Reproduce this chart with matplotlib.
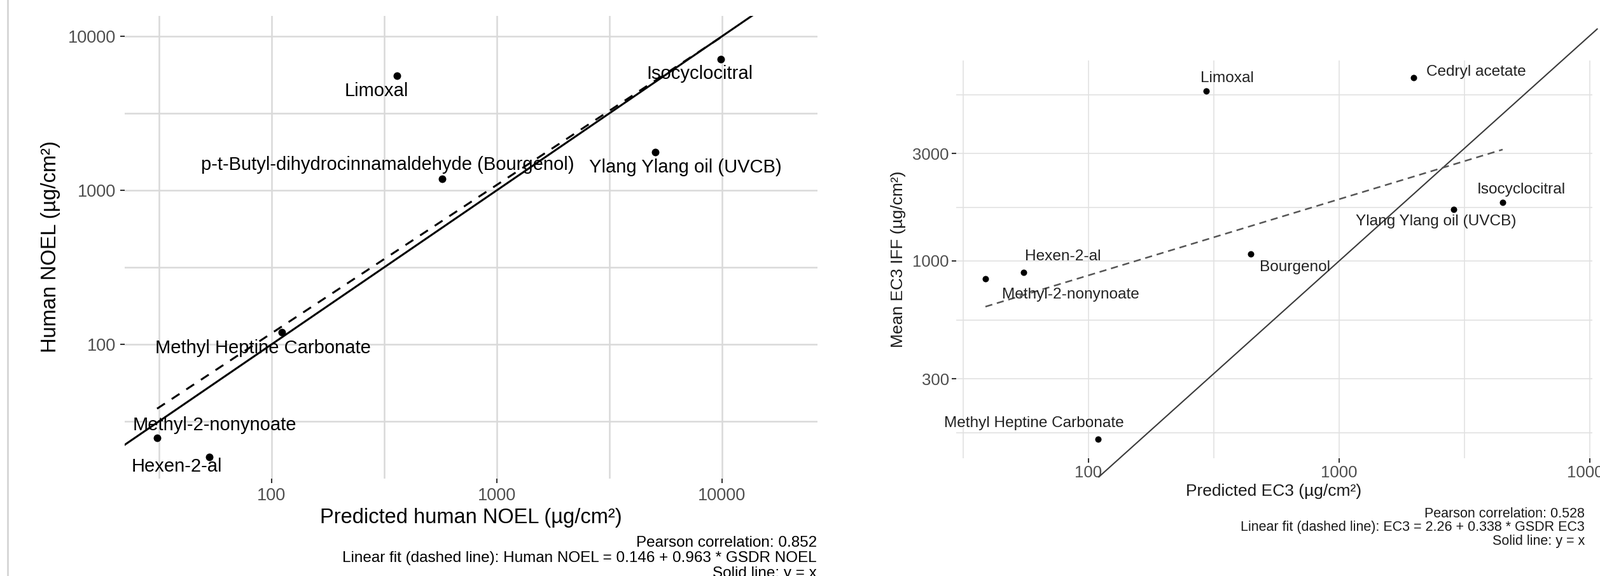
import numpy as np
import matplotlib.pyplot as plt
from matplotlib.lines import Line2D
from matplotlib.ticker import FixedLocator, NullFormatter

plt.rcParams['font.family'] = ['Liberation Sans', 'DejaVu Sans']

# left panel: human NOEL vs predicted
left_names = ["Limoxal", "Isocyclocitral", "p-t-Butyl-dihydrocinnamaldehyde (Bourgenol)",
              "Ylang Ylang oil (UVCB)", "Methyl Heptine Carbonate", "Methyl-2-nonynoate", "Hexen-2-al"]
left_pred = [360, 9860, 571, 5050, 111, 31, 53]
left_human = [5550, 7100, 1185, 1770, 120, 24.7, 18.6]
left_fit = (0.146, 0.963)  # log10 intercept, slope
left_ticks = [100, 1000, 10000]
left_ticklabels = ["100", "1000", "10000"]

# right panel: mean EC3 IFF vs predicted EC3
right_names = ["Limoxal", "Cedryl acetate", "Isocyclocitral", "Ylang Ylang oil (UVCB)", "Bourgenol",
               "Hexen-2-al", "Methyl-2-nonynoate", "Methyl Heptine Carbonate"]
right_pred = [295, 1983, 4490, 2865, 444, 55, 38.8, 109]
right_ec3 = [5680, 6520, 1820, 1694, 1074, 890, 834, 162]
right_fit = (2.26, 0.338)
right_identity = [110, 10700]
right_xticks = [100, 1000, 10000]
right_xticklabels = ["100", "1000", "10000"]
right_yticks = [300, 1000, 3000]
right_yticklabels = ["300", "1000", "3000"]

# label offsets in pixels (dx right, dy down)
left_offsets = [(-32, 24), (-33, 23), (-86, -22), (47, 24), (-30, 25), (90, -20), (-51, 15)]
right_offsets = [(33, -20), (98, -9), (29, -20), (-28, 19), (69, 21), (62, -25), (134, 25), (-100, -25)]

W, H = 2515, 905
fig = plt.figure(figsize=(W / 100, H / 100), dpi=100)


def box(x0, y0, x1, y1):
    return [x0 / W, 1 - y1 / H, (x1 - x0) / W, (y1 - y0) / H]


def fp(x, y):
    return x / W, 1 - y / H


def style_axes(ax, minor_x, minor_y, gcolor, glw, fs, pad, tlen):
    for s in ax.spines.values():
        s.set_visible(False)
    ax.xaxis.set_minor_locator(FixedLocator(minor_x))
    ax.yaxis.set_minor_locator(FixedLocator(minor_y))
    ax.xaxis.set_minor_formatter(NullFormatter())
    ax.yaxis.set_minor_formatter(NullFormatter())
    ax.tick_params(which='minor', length=0)
    ax.tick_params(which='major', length=tlen, width=1.5, color='#333333',
                   labelsize=fs, labelcolor='#4D4D4D', pad=pad)
    ax.grid(which='both', color=gcolor, linewidth=glw)
    ax.set_axisbelow(True)


fig.add_artist(Line2D([12 / W, 12 / W], [0, 1], color='#D5D5D5', lw=2, transform=fig.transFigure))

# ---- left panel
ax1 = fig.add_axes(box(196, 25, 1285, 752))
ax1.set_xscale('log')
ax1.set_yscale('log')
ax1.set_xlim(22.26, 26530)
ax1.set_ylim(13.43, 13550)
ax1.set_xticks(left_ticks, left_ticklabels)
ax1.set_yticks(left_ticks, left_ticklabels)
half = [10 ** 1.5, 10 ** 2.5, 10 ** 3.5]
style_axes(ax1, half, half, '#D9D9D9', 1.8, 19.5, 5, 5)

xs = np.array([10, 100000])
ax1.plot(xs, xs, color='black', lw=2.2)
xf = np.linspace(min(left_pred), max(left_pred), 50)
ax1.plot(xf, 10 ** (left_fit[0] + left_fit[1] * np.log10(xf)), color='black', lw=2.2,
         linestyle=(0, (4.8, 4.2)))
ax1.scatter(left_pred, left_human, s=74, color='black', zorder=3, linewidths=0)
for name, x, y, (dx, dy) in zip(left_names, left_pred, left_human, left_offsets):
    ax1.annotate(name, (x, y), xytext=(dx, -dy), textcoords='offset pixels',
                 ha='center', va='center', fontsize=21, color='black')

fig.text(*fp(80, 388), "Human NOEL (µg/cm²)", rotation=90, ha='center', va='center', fontsize=23.5)
fig.text(*fp(740, 813), "Predicted human NOEL (µg/cm²)", ha='center', va='center', fontsize=23.5)
left_caption = ["Pearson correlation: 0.852",
                "Linear fit (dashed line): Human NOEL = 0.146 + 0.963 * GSDR NOEL",
                "Solid line: y = x"]
for i, line in enumerate(left_caption):
    fig.text(*fp(1284, 853 + 24 * i), line, ha='right', va='center', fontsize=17.5)

# ---- right panel
ax2 = fig.add_axes(box(1503, 95, 2503, 720))
ax2.set_xscale('log')
ax2.set_yscale('log')
ax2.set_xlim(29.66, 10237)
ax2.set_ylim(133.1, 7759)
ax2.set_xticks(right_xticks, right_xticklabels)
ax2.set_yticks(right_yticks, right_yticklabels)
style_axes(ax2, half, [173.2, 547.7, 1732, 5477], '#E2E2E2', 1.2, 18.5, 3, 5)

ax2.plot(right_identity, right_identity, color='#3A3A3A', lw=1.5, clip_on=False)
xf = np.linspace(min(right_pred), max(right_pred), 50)
ax2.plot(xf, 10 ** (right_fit[0] + right_fit[1] * np.log10(xf)), color='#555555', lw=1.8,
         linestyle=(0, (4.5, 3)))
ax2.scatter(right_pred, right_ec3, s=52, color='black', zorder=3, linewidths=0)
for name, x, y, (dx, dy) in zip(right_names, right_pred, right_ec3, right_offsets):
    ax2.annotate(name, (x, y), xytext=(dx, -dy), textcoords='offset pixels',
                 ha='center', va='center', fontsize=17.6, color='#222222')

fig.text(*fp(1412, 407), "Mean EC3 IFF (µg/cm²)", rotation=90, ha='center', va='center',
         fontsize=19, color='#1A1A1A')
fig.text(*fp(2002, 772), "Predicted EC3 (µg/cm²)", ha='center', va='center', fontsize=19,
         color='#1A1A1A')
right_caption = ["Pearson correlation: 0.528",
                 "Linear fit (dashed line): EC3 = 2.26 + 0.338 * GSDR EC3",
                 "Solid line: y = x"]
for i, line in enumerate(right_caption):
    fig.text(*fp(2491, 807 + 21.5 * i), line, ha='right', va='center', fontsize=15.5,
             color='#1A1A1A')

fig.savefig("out.png", dpi=100)
